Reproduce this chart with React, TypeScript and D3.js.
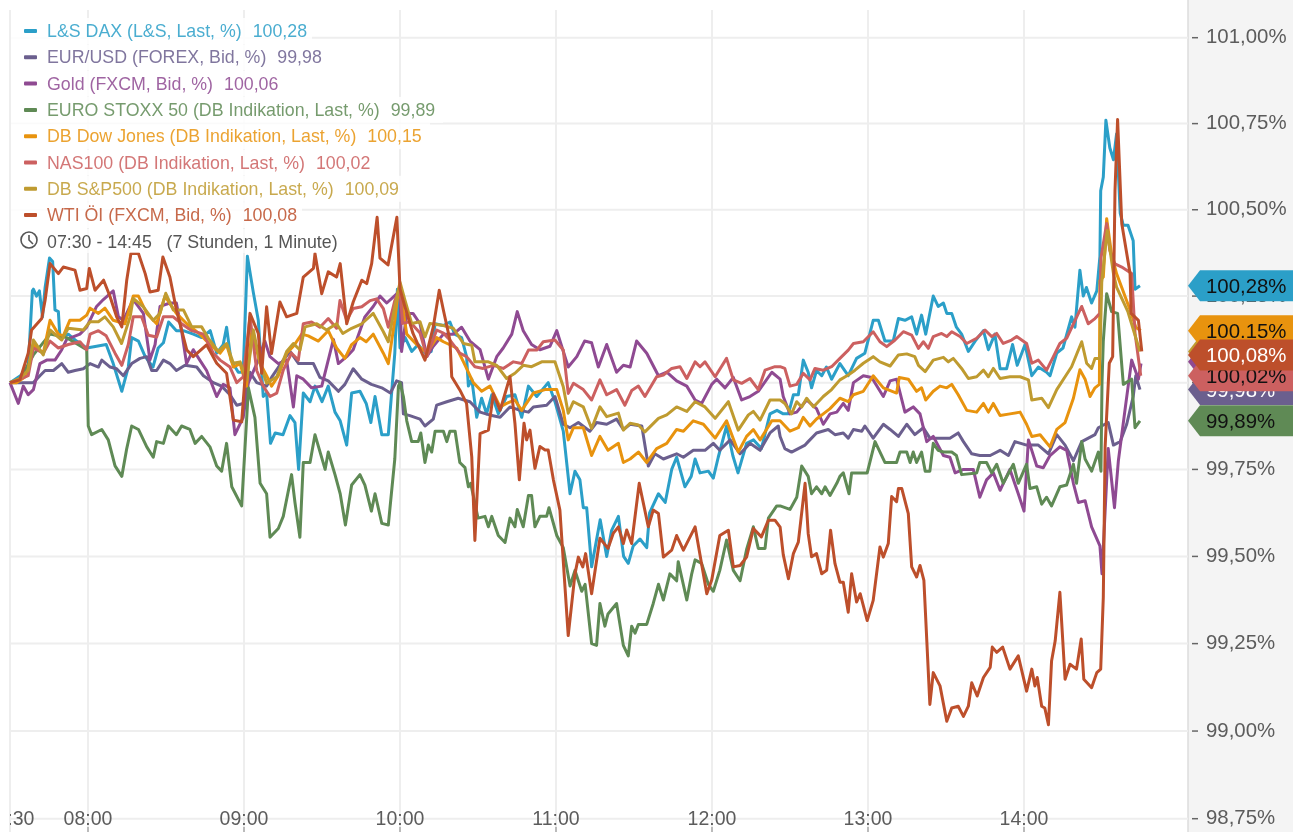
import React from 'react';
import * as d3 from 'd3';

// [minutes since 07:30, % value]
const dax = [[0,100],[4,100.02],[7,100.045],[8.6,100.265],[9,100.27],[10.2,100.25],[11.3,100.265],[12.5,100.19],[13.5,100.275],[15.2,100.36],[16.4,100.35],[17.3,100.21],[18.6,100.205],[19.2,100.13],[22.4,100.14],[25.6,100.12],[29.5,100.10],[33.3,100.105],[37,100.11],[39.7,100.055],[43,99.975],[45.5,100.045],[46.8,100.13],[49.4,100.12],[52,100.075],[55,100.045],[57,100.10],[59,100.115],[61,100.175],[64,100.15],[66.7,100.15],[70.5,100.14],[73.7,100.13],[77,100.15],[79.5,100.085],[82,100.11],[83.3,100.16],[85,100.065],[87.8,100.03],[89.7,100.03],[91.3,100.365],[93.6,100.26],[95.5,100.18],[97.4,99.96],[98.7,99.97],[100.2,99.825],[102,99.855],[105,99.85],[107.7,99.905],[109.6,99.885],[111,99.75],[112.8,99.97],[115.4,99.945],[117.3,99.99],[120,99.945],[122.4,99.99],[125,99.915],[127,99.89],[129.5,99.82],[131.4,99.97],[134.6,99.975],[137,99.94],[138.8,99.885],[140.4,99.96],[143,99.85],[145.5,99.85],[148,100.085],[149,100.27],[150,100.10],[152,100.13],[154.5,100.09],[157,100.11],[159.6,100.085],[162,100.09],[163.5,100.17],[166.7,100.165],[169.2,100.175],[171,100.14],[173.7,100.13],[175.6,100.075],[176.3,99.99],[177.6,100.01],[179.5,99.90],[181.4,99.955],[183.3,99.91],[185.3,99.965],[187.8,99.91],[191,99.96],[194.2,99.965],[196.8,99.90],[199.4,99.99],[202.6,99.96],[207,100.0],[209.6,99.945],[212.8,99.86],[215.4,99.68],[217.3,99.745],[219.2,99.72],[220.5,99.64],[221.8,99.64],[223.7,99.47],[227,99.605],[229.5,99.50],[231.4,99.575],[234,99.615],[236,99.50],[237.8,99.48],[239.7,99.53],[242.3,99.55],[244.9,99.525],[246,99.625],[249.4,99.68],[252,99.655],[254.5,99.75],[256.4,99.785],[259.6,99.70],[262,99.73],[263.5,99.78],[265.4,99.74],[268.6,99.745],[270.5,99.725],[272.4,99.785],[275.6,99.875],[278,99.79],[280,99.74],[283.3,99.825],[286,99.835],[289,99.81],[292.3,99.91],[295,99.92],[297.4,99.91],[299.4,99.91],[301.3,99.965],[303.2,99.965],[305.1,100.065],[307,100.03],[308.3,99.985],[310.2,100.035],[312.2,100.02],[314,100.045],[316,100.01],[319.2,100.055],[322.4,100.02],[325.6,100.07],[328.8,100.085],[332,100.18],[334,100.18],[336.5,100.12],[339.7,100.12],[341.7,100.185],[344.2,100.18],[346.8,100.19],[348.7,100.14],[350.6,100.195],[352.2,100.14],[355.1,100.25],[357,100.22],[359,100.23],[360.3,100.2],[362.2,100.2],[364,100.16],[366,100.14],[368.6,100.09],[371.2,100.12],[374.4,100.15],[376.3,100.095],[378.8,100.14],[380.8,100.04],[383.3,100.04],[385.6,100.11],[387.4,100.05],[390.4,100.11],[393,100.02],[395.5,100.045],[398.7,100.03],[400,100.02],[402.6,100.085],[405,100.10],[408.3,100.19],[409.6,100.16],[411.5,100.325],[412.8,100.25],[414,100.275],[416,100.23],[418,100.265],[419.2,100.365],[419.5,100.555],[420.5,100.595],[421.5,100.76],[423,100.68],[424.4,100.645],[425.6,100.72],[427,100.49],[428.2,100.455],[430,100.455],[432,100.41],[432.7,100.27],[434.6,100.28]];

const eurUsd = [[0,100],[3.8,100],[9,100],[11.5,100.02],[13.5,100.035],[16.7,100.035],[19.9,100.055],[22.4,100.03],[25,100.035],[28.2,100.04],[30.8,100.055],[34,100.045],[35.3,100.065],[38.5,100.045],[41,100.04],[43.6,100.02],[46.8,100.055],[50,100.07],[52.6,100.075],[54.5,100.035],[56.4,100.035],[59,100.065],[61.5,100.055],[64,100.035],[67.3,100.05],[71.8,100.045],[74.4,100.02],[78.2,100.0],[81.4,99.99],[84.6,99.965],[87.2,99.935],[89.7,99.94],[92.3,100.03],[94.9,100.0],[98.7,99.99],[100.6,100.015],[105.1,100.065],[107.7,100.09],[111,100.055],[116.7,100.055],[119.2,100.015],[122.4,100.005],[126.3,99.975],[128.8,99.995],[132,100.04],[135.3,100.01],[139,99.995],[143,99.985],[146.3,99.97],[148.7,100.005],[150.6,100],[151.3,99.91],[153.8,99.905],[157.7,99.895],[159.6,99.875],[162.8,99.895],[164.1,99.935],[168,99.945],[172.4,99.955],[176.9,99.945],[180.8,99.915],[185.3,99.905],[188.5,99.90],[192.3,99.93],[196.2,99.92],[199.4,99.915],[201.3,99.93],[206.4,99.935],[209.6,99.96],[212.8,99.88],[215.4,99.87],[218.6,99.885],[223,99.86],[225.6,99.885],[229.5,99.88],[233.3,99.895],[235.9,99.865],[238.5,99.88],[243,99.875],[245.5,99.76],[248,99.795],[251.3,99.78],[256.4,99.795],[259,99.785],[262.8,99.805],[267.3,99.805],[270.5,99.825],[273,99.805],[277,99.835],[280.8,99.795],[284.6,99.825],[288.5,99.805],[292.3,99.855],[295.5,99.875],[296.2,99.845],[298,99.81],[300.6,99.80],[303.2,99.81],[305.8,99.82],[307,99.83],[310.2,99.855],[314.7,99.865],[317.3,99.85],[320.5,99.855],[322.4,99.84],[324.4,99.865],[327.6,99.86],[328.8,99.875],[332,99.84],[335.9,99.88],[338.5,99.865],[341.7,99.845],[344.9,99.88],[348,99.85],[351.3,99.87],[353.8,99.84],[357.7,99.84],[361.5,99.84],[364.7,99.855],[366.7,99.83],[369.9,99.795],[373,99.79],[377,99.79],[380.8,99.805],[384,99.79],[386.5,99.83],[391,99.82],[395.5,99.82],[399.4,99.795],[402.6,99.85],[405.8,99.82],[409,99.775],[412.2,99.83],[417.3,99.85],[418.6,99.87],[422.4,99.885],[424.4,99.82],[427,99.83],[429.5,99.88],[432,99.96],[433,100.02],[434.6,99.98]];

const gold = [[0,100],[3.2,99.94],[5.1,99.99],[7,99.965],[9,99.98],[11.5,100.055],[14.1,100.065],[17.3,100.065],[19.9,100.095],[21.8,100.125],[26.9,100.14],[29.5,100.16],[33.3,100.22],[35.9,100.24],[39.7,100.265],[41.7,100.19],[43.6,100.18],[45.5,100.21],[47.4,100.24],[51.3,100.20],[53.2,100.10],[53.8,100.065],[55.8,100.11],[57.7,100.22],[61.5,100.23],[64,100.23],[66,100.15],[67.9,100.055],[70.5,100.095],[73,100.065],[75.6,100.035],[79.5,99.96],[82,99.995],[84.6,99.985],[86.5,99.85],[89.7,99.90],[91.7,100.0],[95.5,100.065],[98,100.12],[100,100.075],[103.2,100.055],[106.4,100.065],[109,99.93],[110.3,100.02],[112.8,100.01],[116,99.985],[119.9,99.99],[122.4,100.065],[124.4,100.125],[126.3,100.055],[129.5,100.075],[132,100.095],[136.5,100.19],[139.7,100.22],[142.3,100.25],[144.9,100.23],[150,100.265],[150.6,100.09],[152.6,100.20],[155,100.20],[157.7,100.17],[160.3,100.075],[162.8,100.105],[166.7,100.14],[170.5,100.14],[173.7,100.16],[176.9,100.12],[180.8,100.095],[184,100.01],[187.2,100.075],[189.7,100.10],[193,100.14],[195.1,100.205],[197.4,100.15],[200.6,100.11],[203.8,100.095],[207.7,100.105],[210.3,100.15],[214.7,100.045],[218,100.075],[221,100.12],[223.7,100.115],[226.3,100.045],[229.5,100.11],[233.3,100.03],[235.9,100.05],[238.5,100.045],[241,100.12],[244.9,100.085],[249.4,100.02],[252.6,100.03],[256.4,100.005],[260.3,99.99],[263.5,99.95],[266,99.94],[269.9,99.995],[271.8,100.01],[275,99.985],[278.2,100.015],[281.4,99.95],[284.6,99.96],[287.8,99.975],[289.7,99.995],[293,100.03],[296.2,100.01],[297.4,99.96],[300,99.91],[302.6,99.915],[306.4,99.95],[310.2,99.925],[312.8,99.88],[315.4,99.91],[318,99.915],[320.5,99.94],[322.4,99.92],[324.4,100.0],[328.2,100.02],[331.4,100.015],[335.9,99.96],[338.5,100.005],[341,100.01],[344.2,99.915],[347.4,99.93],[350,99.91],[352.6,99.83],[355.1,99.845],[359,99.79],[361.5,99.785],[363.5,99.74],[366.7,99.75],[370.5,99.75],[373,99.67],[375.6,99.72],[378.2,99.74],[380.8,99.69],[384.6,99.75],[387.8,99.68],[390,99.63],[391.7,99.835],[394.9,99.76],[397.4,99.755],[400,99.79],[403.8,99.815],[406.4,99.805],[409,99.71],[410.9,99.655],[413.5,99.66],[416,99.585],[419.2,99.53],[420,99.45],[422.4,99.81],[424.8,99.64],[426.3,99.775],[429,99.93],[431.4,100.065],[434,100.01],[435,100.055]];

const stoxx = [[0,100],[3.8,100.01],[9,100.08],[15.4,100.14],[21.8,100.13],[29.5,100.095],[30.1,99.875],[31.4,99.85],[35.3,99.865],[37.8,99.835],[40.4,99.76],[43,99.73],[44.9,99.81],[46.8,99.875],[49.4,99.865],[52.6,99.815],[55.1,99.785],[56.4,99.83],[59,99.825],[60.9,99.875],[64,99.85],[66,99.875],[69.2,99.865],[71.2,99.825],[73.7,99.845],[76.9,99.815],[79.5,99.76],[81.4,99.745],[83.3,99.825],[85.3,99.70],[89.1,99.645],[91.7,99.985],[94.2,99.90],[96.2,99.71],[98.7,99.68],[100,99.555],[103.2,99.58],[105.1,99.615],[108.3,99.735],[109.6,99.655],[111.5,99.555],[112.8,99.77],[115.4,99.77],[117.3,99.85],[121.2,99.75],[122.4,99.80],[125,99.735],[127,99.68],[129,99.59],[131.4,99.705],[134.6,99.735],[136.5,99.705],[139,99.63],[140.4,99.68],[143,99.595],[145.5,99.59],[148,99.78],[149.4,99.99],[150,100.0],[151.3,99.96],[152.6,99.89],[154.5,99.83],[157,99.83],[158,99.855],[159.6,99.77],[160.9,99.82],[162.2,99.80],[163.5,99.86],[166.7,99.86],[168,99.83],[169.2,99.86],[171.2,99.86],[173,99.77],[175,99.755],[176.3,99.70],[177.2,99.71],[180,99.61],[182.7,99.615],[184,99.585],[185.3,99.615],[187.8,99.56],[190.4,99.54],[192.3,99.61],[194.2,99.585],[195.1,99.635],[197.4,99.585],[199.4,99.675],[200.6,99.675],[201.9,99.585],[203.8,99.615],[206.4,99.615],[207.3,99.64],[210.3,99.56],[212.8,99.525],[215.4,99.415],[217.3,99.46],[219.9,99.40],[221.2,99.42],[223.7,99.25],[225.6,99.245],[226.9,99.365],[228.8,99.30],[230,99.335],[233.3,99.365],[235.9,99.245],[237.8,99.215],[239.1,99.30],[240.4,99.28],[241.7,99.305],[244.9,99.305],[247.4,99.365],[249.4,99.42],[251.3,99.375],[253.8,99.45],[256.4,99.43],[257,99.485],[260.3,99.375],[262.2,99.45],[263.5,99.49],[266,99.48],[268.6,99.42],[270.5,99.40],[273,99.46],[275.6,99.547],[278.2,99.46],[280.8,99.43],[283.3,99.52],[285.9,99.585],[287.8,99.523],[290.4,99.523],[291.7,99.61],[294.9,99.645],[296.2,99.645],[300,99.635],[302.6,99.67],[304.5,99.76],[307,99.73],[308.3,99.68],[310.2,99.70],[312.2,99.68],[313.5,99.70],[315.4,99.675],[318,99.71],[319.2,99.73],[320.5,99.74],[322.7,99.68],[323.7,99.74],[329.7,99.74],[332.7,99.83],[336.5,99.77],[341,99.77],[342.3,99.80],[344.9,99.80],[346.2,99.77],[347.4,99.80],[348.7,99.77],[350.6,99.80],[352,99.745],[353.8,99.745],[355.1,99.825],[357,99.805],[359,99.80],[362.2,99.80],[364,99.79],[366,99.735],[371.8,99.74],[373,99.77],[375.6,99.77],[377.6,99.74],[379.5,99.765],[382,99.71],[385.9,99.765],[387.8,99.71],[391,99.765],[392.3,99.695],[394.9,99.70],[396.8,99.65],[398.7,99.67],[400.6,99.645],[403.8,99.70],[406.4,99.705],[409,99.765],[410.2,99.71],[412.2,99.83],[413.5,99.78],[416,99.745],[418.6,99.80],[419.6,99.745],[420,100.0],[420.5,100.12],[421.8,100.257],[423.7,100.205],[426,100.2],[428.2,99.995],[431.4,100.01],[432.7,99.87],[434.6,99.89]];

const dow = [[0,100],[2.6,100],[6.4,100.02],[9,100.11],[12.8,100.085],[15.4,100.18],[18.6,100.14],[20.5,100.135],[23,100.18],[26.9,100.18],[29.5,100.195],[30.8,100.215],[34,100.20],[36.5,100.215],[39.7,100.18],[44.2,100.17],[47.4,100.25],[49.4,100.25],[52.6,100.2],[56.4,100.17],[59.6,100.25],[64,100.2],[68,100.17],[73,100.14],[76.9,100.11],[80.8,100.085],[83.3,100.11],[85.9,100.045],[88.5,100.055],[91,99.99],[93,100.15],[96.2,100.055],[98.7,100.02],[100.6,99.99],[103.2,100.02],[106.4,100.085],[109,100.105],[112.2,100.14],[114.7,100.135],[118.6,100.12],[122.4,100.15],[125.6,100.10],[128.8,100.07],[131.4,100.11],[134.6,100.13],[137,100.118],[139.7,100.14],[143.6,100.085],[145.5,100.055],[148,100.18],[149.4,100.27],[150.6,100.24],[152.6,100.14],[156.4,100.11],[160.3,100.085],[164.1,100.13],[166.7,100.118],[171.8,100.10],[174.4,100.06],[178.2,100.0],[181.4,99.975],[184.6,99.99],[188.5,99.93],[191,99.94],[194.2,99.95],[196.8,99.92],[201.3,99.97],[205.8,99.98],[210.3,99.98],[212.8,99.92],[214.7,99.835],[216.7,99.87],[220.5,99.87],[223.7,99.79],[226.9,99.845],[230,99.805],[234,99.825],[235.9,99.77],[238.5,99.78],[241.7,99.80],[244.9,99.77],[248.7,99.81],[252.6,99.825],[256.4,99.865],[259,99.86],[262.8,99.89],[266.7,99.88],[271.2,99.84],[275.6,99.89],[280.1,99.80],[283.3,99.845],[285.9,99.865],[288.5,99.835],[293,99.89],[296.2,99.89],[300,99.86],[303.2,99.87],[305.1,99.90],[307.7,99.875],[310.2,99.895],[312.8,99.91],[315.4,99.925],[319.2,99.955],[322.4,99.945],[324.4,99.965],[328.2,99.975],[332,100.02],[335.9,99.985],[341,99.97],[342,100.015],[345.5,100.01],[348.7,99.975],[350.6,99.985],[352.2,99.95],[355.1,99.975],[357.7,99.99],[360.3,99.985],[362.2,99.995],[364.7,99.965],[368,99.92],[371.8,99.915],[374.4,99.94],[376.3,99.915],[378.2,99.94],[380.8,99.905],[384.6,99.91],[388.5,99.915],[391,99.88],[393,99.845],[396.2,99.85],[400,99.815],[402.6,99.865],[405.8,99.885],[409,99.955],[411.5,100.037],[413.5,100.01],[415.4,99.96],[417.3,99.985],[419,99.995],[419.2,100.295],[420.5,100.305],[421.8,100.474],[423.7,100.37],[425.6,100.315],[427.6,100.275],[430.8,100.21],[433,100.16],[434.9,100.15]];

const nas = [[0,100],[3.8,100.01],[7,100.02],[9,100.1],[12.8,100.085],[15.4,100.12],[18.6,100.1],[22.4,100.11],[26.9,100.118],[29.5,100.095],[30.8,100.14],[34,100.15],[37,100.135],[40.4,100.085],[43,100.05],[45.5,100.11],[47.4,100.19],[50.6,100.19],[53.2,100.137],[56.4,100.132],[59,100.19],[62.8,100.19],[66,100.17],[69.9,100.15],[74.4,100.14],[78.2,100.085],[80.8,100.065],[84.6,100.045],[87.2,100.0],[89.7,100.017],[92.3,100.19],[94.9,100.035],[97.4,99.99],[100,99.96],[102.6,99.97],[105.1,100.036],[108.3,100.085],[110.9,100.065],[112.8,100.17],[116,100.175],[119.2,100.16],[122.4,100.185],[125.6,100.157],[126.9,100.237],[129.5,100.18],[132,100.214],[135.3,100.219],[138.5,100.237],[141,100.242],[143.6,100.214],[145.5,100.16],[148,100.237],[150,100.27],[151,100.171],[153.8,100.176],[157.7,100.143],[160.3,100.075],[164.1,100.152],[166.7,100.143],[169.2,100.123],[173,100.085],[175.6,100.075],[178.8,100.046],[182,100.041],[185.9,100.05],[189.7,100.041],[193.6,100.06],[196.8,100.055],[199.4,100.094],[202.6,100.094],[205.1,100.118],[209.6,100.123],[212.8,100.094],[214.7,99.969],[216.7,99.998],[220.5,99.98],[223.7,99.95],[226.9,100.008],[229.5,99.965],[233.3,99.98],[236.5,99.935],[239.1,99.977],[241.7,99.99],[244.2,99.96],[248.7,100.017],[251.3,100.022],[254.5,100.041],[257.7,100.046],[260.3,100.012],[263.5,100.06],[265.4,100.046],[267.3,100.06],[271.2,100.017],[275.6,100.07],[278.2,100.008],[281.4,99.998],[284.6,100.012],[287.8,99.98],[290.4,100.036],[294.2,100.046],[296.2,100.046],[298,100.041],[300,99.99],[302.6,99.995],[305.1,100.027],[307.7,100.008],[309.6,100.041],[312.8,100.036],[316,100.046],[319.2,100.07],[322.4,100.094],[324.4,100.113],[328.2,100.118],[332,100.147],[334.6,100.118],[337.2,100.104],[340.4,100.123],[343.6,100.147],[346.8,100.137],[349.4,100.099],[351.3,100.118],[353.2,100.099],[355.1,100.133],[358.3,100.142],[360.3,100.133],[362.2,100.147],[365.4,100.133],[368,100.113],[371.8,100.128],[375,100.152],[377.6,100.133],[379.5,100.142],[382,100.113],[385.2,100.123],[387.2,100.133],[391,100.113],[393,100.056],[395.5,100.065],[398.7,100.036],[401.3,100.075],[403.8,100.113],[406.4,100.128],[409,100.17],[412.2,100.22],[414.7,100.17],[417.3,100.185],[419.2,100.2],[419.6,100.36],[421.8,100.46],[423,100.382],[425,100.343],[427.6,100.334],[431.4,100.315],[432.7,100.143],[434.9,100.02]];

const sp500 = [[0,100],[3.8,100.012],[7,100.036],[9,100.123],[12.8,100.08],[15.4,100.152],[19.9,100.123],[22.4,100.157],[28.2,100.152],[30.8,100.176],[34,100.176],[36.5,100.19],[39.7,100.161],[42.9,100.113],[46.2,100.19],[47.4,100.243],[51.3,100.219],[55.1,100.18],[57.7,100.2],[59.9,100.258],[62.8,100.21],[66.7,100.21],[69.9,100.161],[73.7,100.161],[76.3,100.128],[80.1,100.09],[83.3,100.113],[85.9,100.056],[88.5,100.06],[91,100.008],[93.6,100.152],[96.2,100.056],[98.7,99.998],[102.6,100.017],[106.4,100.09],[109,100.113],[111.5,100.094],[113.5,100.161],[118,100.17],[121.8,100.152],[125.6,100.17],[128,100.142],[131.4,100.157],[135.3,100.17],[139.7,100.2],[143.6,100.147],[145.5,100.118],[148,100.219],[150,100.29],[151.9,100.238],[154.5,100.171],[157.7,100.176],[159.6,100.132],[161.5,100.171],[166,100.166],[170.5,100.157],[174.4,100.113],[177.6,100.108],[178.8,100.06],[184,100.06],[187.2,100.05],[191,100.012],[194.2,100.027],[197.4,100.05],[200.6,100.046],[204.5,100.06],[209.6,100.06],[212.8,99.988],[214.7,99.912],[216.7,99.945],[220.5,99.93],[223.7,99.868],[226.9,99.93],[229.5,99.902],[234,99.912],[235.9,99.863],[238.5,99.883],[241.7,99.878],[244.2,99.858],[249.4,99.897],[252.6,99.907],[256.4,99.93],[260.3,99.917],[263.5,99.945],[267.3,99.93],[271.2,99.897],[276.3,99.945],[280.1,99.863],[284,99.907],[285.9,99.917],[288.5,99.892],[292.3,99.95],[296.2,99.95],[298,99.94],[300.6,99.91],[302.6,99.945],[304.5,99.93],[306.4,99.955],[309,99.93],[312.8,99.96],[316,99.98],[319.2,100.008],[322.4,100.022],[325,100.036],[328.2,100.056],[332,100.075],[334.6,100.06],[338.5,100.048],[341.7,100.08],[344.9,100.083],[348,100.075],[349.4,100.05],[352,100.032],[355.1,100.065],[359,100.073],[360.9,100.06],[362.8,100.07],[366,100.041],[368.6,100.012],[371.8,100.017],[374.4,100.036],[376.3,100.017],[378.2,100.041],[380.8,100.012],[384.6,100.017],[388.5,100.017],[391.7,100.008],[393,99.95],[396.8,99.955],[399.4,99.928],[402.6,99.98],[405.8,100.017],[408.3,100.046],[412.2,100.118],[414.1,100.056],[416,100.041],[417.3,100.07],[419.2,100.07],[419.9,100.29],[422,100.44],[424.4,100.315],[425.6,100.276],[430,100.204],[434.6,100.09]];

const wti = [[0,100],[3.8,100.008],[7,100.085],[8.3,100.152],[12.2,100.185],[13.5,100.238],[15.4,100.344],[18.6,100.315],[20.5,100.334],[25,100.325],[26.9,100.267],[29.5,100.272],[30.5,100.33],[32.7,100.267],[36,100.296],[38.5,100.248],[41,100.19],[43,100.161],[44.9,100.296],[46.5,100.373],[49.4,100.373],[52,100.315],[53.8,100.262],[57,100.267],[58.8,100.363],[61.5,100.305],[64,100.21],[68,100.094],[70.5,100.075],[75.6,100.109],[79.5,100.056],[83.3,100.027],[85.9,99.892],[89.1,99.887],[92.3,100.2],[95.5,100.142],[96.8,100.027],[98.7,100.219],[100.6,100.084],[103.8,100.233],[106.4,100.19],[110.3,100.2],[112.8,100.305],[116.7,100.33],[117.3,100.373],[119.9,100.257],[122.4,100.32],[125.6,100.305],[127,100.344],[129.5,100.17],[132,100.233],[135.3,100.296],[137.2,100.286],[139.1,100.344],[141.2,100.478],[142.3,100.36],[145.4,100.34],[148.8,100.478],[150,100.27],[151.9,100.219],[155,100.142],[159.6,100.065],[162.8,100.161],[165.1,100.267],[166.7,100.209],[169.2,100.123],[169.9,100.017],[173,99.979],[175.6,99.94],[177.6,99.786],[178.8,99.546],[180.8,99.853],[184,99.863],[185.9,99.968],[188.5,99.92],[192.3,100.017],[194.2,99.883],[195.9,99.72],[197.7,99.883],[198.7,99.835],[200,99.863],[201.9,99.753],[203.8,99.816],[205.8,99.806],[207,99.806],[209,99.72],[211.5,99.633],[214.7,99.273],[217.3,99.45],[218.6,99.498],[220.3,99.47],[221.4,99.508],[223.7,99.393],[226.9,99.552],[230,99.523],[232,99.566],[234,99.585],[235.9,99.537],[237.2,99.576],[239.1,99.537],[242,99.71],[245.5,99.585],[247.4,99.633],[249.4,99.623],[251.3,99.498],[254.5,99.518],[256.4,99.56],[259,99.518],[263.5,99.585],[268,99.393],[269.9,99.432],[273,99.56],[276.3,99.575],[278.2,99.47],[280.8,99.474],[283.3,99.498],[285.9,99.58],[289,99.556],[291.7,99.604],[294.2,99.604],[296.2,99.584],[297.4,99.505],[299.4,99.436],[301.3,99.508],[303.2,99.541],[305.8,99.71],[307,99.566],[308.3,99.499],[310.2,99.508],[312.2,99.45],[314.1,99.46],[315.6,99.575],[317.3,99.479],[319.2,99.426],[320.5,99.426],[322.4,99.34],[323.7,99.45],[325.6,99.369],[327,99.393],[329.7,99.316],[332,99.374],[334.6,99.527],[335.9,99.498],[337.8,99.537],[339.1,99.672],[341,99.657],[341.7,99.695],[343,99.695],[345.5,99.623],[346.8,99.47],[348.7,99.441],[350,99.474],[351.5,99.431],[353.8,99.076],[355.1,99.167],[357.7,99.129],[360.3,99.028],[362.2,99.066],[364.7,99.071],[366.7,99.042],[368.6,99.071],[369.9,99.138],[372,99.1],[374.4,99.153],[377,99.182],[377.8,99.24],[379.5,99.225],[381.8,99.24],[384.6,99.177],[387.8,99.215],[391,99.114],[393,99.177],[394.2,99.129],[395.1,99.153],[396.8,99.071],[398,99.066],[399.4,99.018],[400.6,99.2],[402,99.258],[403.8,99.397],[405.8,99.148],[407.7,99.191],[410.2,99.177],[412,99.263],[413,99.148],[416,99.124],[418,99.167],[419.5,99.177],[420.5,99.383],[421.2,99.815],[422.8,100.056],[424.1,100.075],[425,100.555],[426,100.762],[427.6,100.46],[430.8,100.315],[431.2,100.2],[434,100.18],[435.3,100.09]];

const seriesNames = ['L&S DAX (L&S, Last, %)', 'EUR/USD (FOREX, Bid, %)', 'Gold (FXCM, Bid, %)', 'EURO STOXX 50 (DB Indikation, Last, %)', 'DB Dow Jones (DB Indikation, Last, %)', 'NAS100 (DB Indikation, Last, %)', 'DB S&P500 (DB Indikation, Last, %)', 'WTI ÖI (FXCM, Bid, %)'];
const seriesLast = ['100,28', '99,98', '100,06', '99,89', '100,15', '100,02', '100,09', '100,08'];
const seriesLines = [dax, eurUsd, gold, stoxx, dow, nas, sp500, wti];
const seriesColors = ['#2b9fc8', '#6b5f8e', '#8f4a92', '#5f8a55', '#e8930e', '#cc6060', '#bf9b30', '#bd4f2b'];

const yTicks = [101, 100.75, 100.5, 100.25, 100, 99.75, 99.5, 99.25, 99, 98.75];
const xTicks = [0, 30, 90, 150, 210, 270, 330, 390];
const xTickLabels = ['07:30', '08:00', '09:00', '10:00', '11:00', '12:00', '13:00', '14:00'];

// flags, back to front
const flags = [
  { value: 100.06, label: '100,06%', color: '#8f4a92', text: '#111' },
  { value: 100.09, label: '100,09%', color: '#bf9b30', text: '#111' },
  { value: 99.98, label: '99,98%', color: '#6b5f8e', text: '#fff' },
  { value: 100.28, label: '100,28%', color: '#2b9fc8', text: '#111' },
  { value: 100.15, label: '100.15%', color: '#e8930e', text: '#111' },
  { value: 100.02, label: '100,02%', color: '#cc6060', text: '#111' },
  { value: 100.08, label: '100,08%', color: '#bd4f2b', text: '#fff' },
  { value: 99.89, label: '99,89%', color: '#5f8a55', text: '#111' }
];

const legendRowWidths = [301, 317, 272, 432, 419, 365, 393, 291];

const W = 1293;
const H = 832;
const plotLeft = 10;
const plotRight = 1188;
const font = '"Liberation Sans", Arial, sans-serif';

const x = d3.scaleLinear().domain([0, 30]).range([plotLeft, 88]);
const y = d3.scaleLog().domain([98.75, 101]).range([818.7, 37.7]);

const line = d3.line<number[]>()
  .x(d => x(d[0]))
  .y(d => y(d[1]))
  .curve(d3.curveLinear);

export default function App() {
  return (
    <svg width={W} height={H} style={{ position: 'absolute', left: 0, top: 0, fontFamily: font, filter: 'blur(0.4px)' }}>
      <defs>
        <clipPath id="x-labels"><rect x={plotLeft} y={780} width={plotRight - plotLeft} height={52} /></clipPath>
      </defs>
      <rect width={W} height={H} fill="#fff" />
      <rect x={plotRight} y={0} width={W - plotRight} height={H} fill="#f4f4f4" />
      <line x1={plotRight} x2={plotRight} y1={0} y2={H} stroke="#ddd" strokeWidth={1.5} />

      {/* grid */}
      {yTicks.map(t => (
        <line key={t} x1={plotLeft} x2={plotRight} y1={y(t)} y2={y(t)} stroke="#eee" strokeWidth={2} />
      ))}
      <line x1={plotLeft} x2={plotLeft} y1={10} y2={H} stroke="#eee" strokeWidth={2} />
      {xTicks.slice(1).map(t => (
        <line key={t} x1={x(t)} x2={x(t)} y1={10} y2={H} stroke="#eee" strokeWidth={2} />
      ))}

      {/* lines */}
      <g fill="none" strokeWidth={3} strokeLinejoin="round">
        {seriesLines.map((s, i) => (
          <path key={i} d={line(s) || ''} stroke={seriesColors[i]} />
        ))}
      </g>

      {/* y axis */}
      {yTicks.map(t => (
        <g key={t}>
          <line x1={1192} x2={1198} y1={y(t)} y2={y(t)} stroke="#666" strokeWidth={1.5} />
          <text x={1206} y={y(t) + 5.5} fontSize={20.4} fill="#5c5c5c">{d3.format('.2f')(t).replace('.', ',')}%</text>
        </g>
      ))}

      {/* x axis */}
      <g clipPath="url(#x-labels)">
        {xTicks.map((t, i) => (
          <text key={t} x={x(t)} y={825} fontSize={19.5} fill="#5c5c5c" textAnchor="middle">{xTickLabels[i]}</text>
        ))}
      </g>
      {xTicks.slice(1).map(t => (
        <line key={t} x1={x(t)} x2={x(t)} y1={827} y2={H} stroke="#888" strokeWidth={1} />
      ))}

      {/* end flags */}
      {flags.map(f => {
        const fy = y(f.value);
        return (
          <g key={f.label}>
            <path d={`M${plotRight},${fy} L1200,${fy - 15.5} L${W},${fy - 15.5} L${W},${fy + 15.5} L1200,${fy + 15.5} Z`} fill={f.color} />
            <text x={1206} y={fy + 7} fontSize={20.4} fill={f.text}>{f.label}</text>
          </g>
        );
      })}

      {/* legend */}
      {seriesNames.map((name, i) => {
        const cy = 31 + i * 26.3;
        return (
          <g key={name}>
            <rect x={plotLeft + 1} y={cy - 13} width={legendRowWidths[i]} height={26} fill="#fff" opacity={0.85} />
            <rect x={24} y={cy - 2} width={13} height={4} rx={1} fill={seriesColors[i]} />
            <text x={47} y={cy + 6} fontSize={17.8} fill={seriesColors[i]} opacity={0.85}>
              {name}
              <tspan dx={11}>{seriesLast[i]}</tspan>
            </text>
          </g>
        );
      })}
      <rect x={plotLeft + 1} y={229} width={335} height={24} fill="#fff" opacity={0.7} />
      <circle cx={29} cy={240} r={8} fill="none" stroke="#555" strokeWidth={1.6} />
      <path d="M29,235 V240 L33,244" fill="none" stroke="#555" strokeWidth={1.6} />
      <text x={47} y={248} fontSize={17.8} fill="#555" xmlSpace="preserve">07:30 - 14:45   (7 Stunden, 1 Minute)</text>
    </svg>
  );
}
